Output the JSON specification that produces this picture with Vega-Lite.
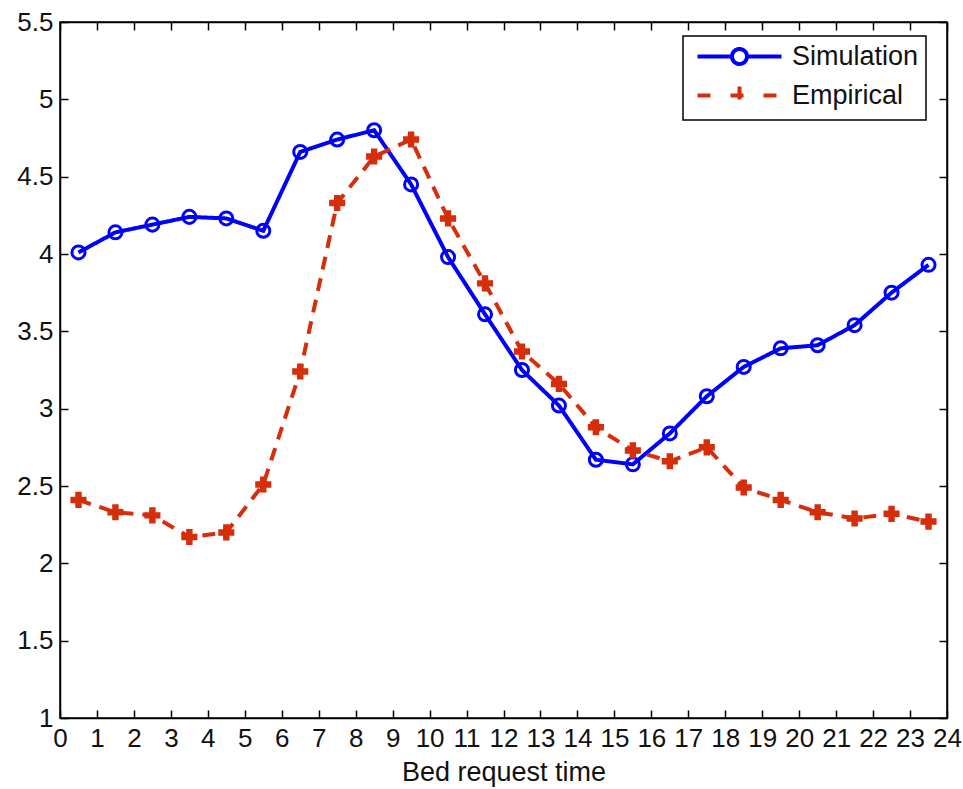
{
  "$schema": "https://vega.github.io/schema/vega-lite/v6.json",
  "width": 887,
  "height": 696,
  "autosize": {"type": "none"},
  "padding": {"left": 60, "top": 22, "right": 16, "bottom": 71},
  "background": "white",
  "config": {
    "font": "Liberation Sans",
    "view": {"stroke": "black", "strokeWidth": 1.5},
    "axis": {
      "domainColor": "black",
      "domainWidth": 1.5,
      "tickColor": "black",
      "tickWidth": 1.5,
      "tickSize": -8,
      "grid": false,
      "labelFont": "Liberation Sans",
      "labelFontSize": 26,
      "labelColor": "#111111",
      "titleFont": "Liberation Sans",
      "titleFontSize": 27,
      "titleFontWeight": "normal",
      "titleColor": "#111111"
    }
  },
  "data": {
    "values": [
      {"t": 0.5, "series": "Simulation", "v": 4.01},
      {"t": 1.5, "series": "Simulation", "v": 4.14},
      {"t": 2.5, "series": "Simulation", "v": 4.19},
      {"t": 3.5, "series": "Simulation", "v": 4.24},
      {"t": 4.5, "series": "Simulation", "v": 4.23},
      {"t": 5.5, "series": "Simulation", "v": 4.15},
      {"t": 6.5, "series": "Simulation", "v": 4.66},
      {"t": 7.5, "series": "Simulation", "v": 4.74},
      {"t": 8.5, "series": "Simulation", "v": 4.80},
      {"t": 9.5, "series": "Simulation", "v": 4.45},
      {"t": 10.5, "series": "Simulation", "v": 3.98},
      {"t": 11.5, "series": "Simulation", "v": 3.61},
      {"t": 12.5, "series": "Simulation", "v": 3.25},
      {"t": 13.5, "series": "Simulation", "v": 3.02},
      {"t": 14.5, "series": "Simulation", "v": 2.67},
      {"t": 15.5, "series": "Simulation", "v": 2.64},
      {"t": 16.5, "series": "Simulation", "v": 2.84},
      {"t": 17.5, "series": "Simulation", "v": 3.08},
      {"t": 18.5, "series": "Simulation", "v": 3.27},
      {"t": 19.5, "series": "Simulation", "v": 3.39},
      {"t": 20.5, "series": "Simulation", "v": 3.41},
      {"t": 21.5, "series": "Simulation", "v": 3.54},
      {"t": 22.5, "series": "Simulation", "v": 3.75},
      {"t": 23.5, "series": "Simulation", "v": 3.93},
      {"t": 0.5, "series": "Empirical", "v": 2.41},
      {"t": 1.5, "series": "Empirical", "v": 2.33},
      {"t": 2.5, "series": "Empirical", "v": 2.31},
      {"t": 3.5, "series": "Empirical", "v": 2.17},
      {"t": 4.5, "series": "Empirical", "v": 2.20},
      {"t": 5.5, "series": "Empirical", "v": 2.51},
      {"t": 6.5, "series": "Empirical", "v": 3.24},
      {"t": 7.5, "series": "Empirical", "v": 4.33},
      {"t": 8.5, "series": "Empirical", "v": 4.63},
      {"t": 9.5, "series": "Empirical", "v": 4.74},
      {"t": 10.5, "series": "Empirical", "v": 4.23},
      {"t": 11.5, "series": "Empirical", "v": 3.81},
      {"t": 12.5, "series": "Empirical", "v": 3.37},
      {"t": 13.5, "series": "Empirical", "v": 3.16},
      {"t": 14.5, "series": "Empirical", "v": 2.88},
      {"t": 15.5, "series": "Empirical", "v": 2.73},
      {"t": 16.5, "series": "Empirical", "v": 2.66},
      {"t": 17.5, "series": "Empirical", "v": 2.75},
      {"t": 18.5, "series": "Empirical", "v": 2.49},
      {"t": 19.5, "series": "Empirical", "v": 2.41},
      {"t": 20.5, "series": "Empirical", "v": 2.33},
      {"t": 21.5, "series": "Empirical", "v": 2.29},
      {"t": 22.5, "series": "Empirical", "v": 2.32},
      {"t": 23.5, "series": "Empirical", "v": 2.27}
    ]
  },
  "layer": [
    {
      "mark": {"type": "line", "strokeWidth": 4},
      "encoding": {
        "x": {
          "field": "t", "type": "quantitative",
          "scale": {"domain": [0, 24], "nice": false, "zero": false},
          "axis": {
            "orient": "bottom",
            "values": [0,1,2,3,4,5,6,7,8,9,10,11,12,13,14,15,16,17,18,19,20,21,22,23,24],
            "labelPadding": 15,
            "labelFlush": false,
            "labelOverlap": false,
            "title": "Bed request time",
            "titlePadding": 8
          }
        },
        "y": {
          "field": "v", "type": "quantitative",
          "scale": {"domain": [1, 5.5], "nice": false, "zero": false},
          "axis": {
            "orient": "left",
            "values": [1, 1.5, 2, 2.5, 3, 3.5, 4, 4.5, 5, 5.5],
            "format": ".1~f",
            "labelPadding": 15,
            "labelFlush": false,
            "labelOverlap": false,
            "title": null
          }
        },
        "color": {
          "field": "series", "type": "nominal",
          "scale": {"domain": ["Simulation", "Empirical"], "range": ["#0000ff", "#d62d0a"]},
          "legend": {
            "orient": "none",
            "legendX": 623,
            "legendY": 14,
            "title": null,
            "direction": "vertical",
            "fillColor": "white",
            "strokeColor": "black",
            "padding": 7,
            "rowPadding": 6,
            "labelFont": "Liberation Sans",
            "labelFontSize": 27,
            "labelColor": "#111111",
            "labelOffset": 75,
            "symbolSize": 400,
            "symbolStrokeWidth": 4,
            "symbolFillColor": "white",
            "encode": {
              "legend": {"update": {"strokeWidth": {"value": 1.5}}},
              "symbols": {
                "update": {
                  "shape": [
                    {"test": "datum.value === 'Simulation'", "value": "M-0.6,0H2.85M4.35,0H7.8M2.85,0A0.75,0.75 0 1,0 4.35,0A0.75,0.75 0 1,0 2.85,0"},
                    {"value": "M-0.6,0H1.2M6,0H7.8M2.7,0H4.5M3.6,-0.9V0.9"}
                  ],
                  "stroke": [
                    {"test": "datum.value === 'Simulation'", "value": "#0000ff"},
                    {"value": "#d62d0a"}
                  ],
                  "fill": {"value": "white"},
                  "fillOpacity": {"value": 0},
                  "strokeWidth": {"value": 4},
                  "strokeDash": {"value": [1, 0]},
                  "opacity": {"value": 1}
                }
              }
            }
          }
        },
        "strokeDash": {
          "field": "series", "type": "nominal",
          "scale": {"domain": ["Simulation", "Empirical"], "range": [[1, 0], [13, 9]]},
          "legend": null
        }
      }
    },
    {
      "transform": [{"filter": "datum.series === 'Simulation'"}],
      "mark": {"type": "point", "shape": "circle", "filled": false, "strokeWidth": 3, "size": 170, "opacity": 1},
      "encoding": {
        "x": {
          "field": "t", "type": "quantitative",
          "axis": {
            "orient": "top",
            "values": [0,1,2,3,4,5,6,7,8,9,10,11,12,13,14,15,16,17,18,19,20,21,22,23,24],
            "labels": false,
            "title": null
          }
        },
        "y": {
          "field": "v", "type": "quantitative",
          "axis": {
            "orient": "right",
            "values": [1, 1.5, 2, 2.5, 3, 3.5, 4, 4.5, 5, 5.5],
            "labels": false,
            "title": null
          }
        },
        "color": {"field": "series", "type": "nominal"}
      }
    },
    {
      "transform": [{"filter": "datum.series === 'Empirical'"}],
      "mark": {"type": "point", "shape": "cross", "filled": true, "size": 260, "opacity": 1},
      "encoding": {
        "x": {"field": "t", "type": "quantitative", "axis": null},
        "y": {"field": "v", "type": "quantitative", "axis": null},
        "color": {"field": "series", "type": "nominal"}
      }
    }
  ],
  "resolve": {"axis": {"x": "independent", "y": "independent"}}
}
